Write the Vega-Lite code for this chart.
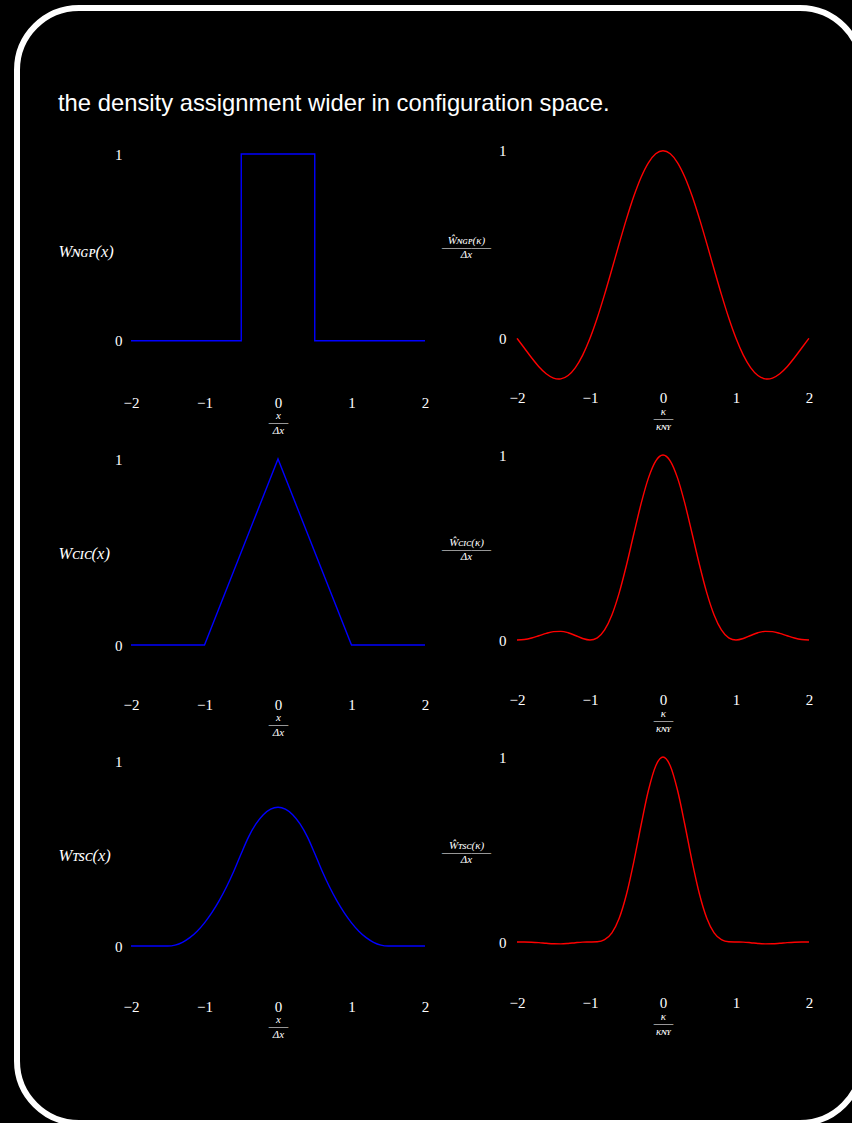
{
  "$schema": "https://vega.github.io/schema/vega-lite/v6.json",
  "background": "#000000",
  "padding": {"left": 17, "top": 8, "right": 0, "bottom": 0},
  "width": 845,
  "height": 1115,
  "view": {"stroke": "#ffffff", "strokeWidth": 6, "cornerRadius": 62, "fill": null},
  "title": {"text": "the density assignment wider in configuration space.", "anchor": "start", "frame": "group", "offset": -127, "dx": 41, "baseline": "alphabetic", "font": "Liberation Sans", "fontSize": 23.8, "fontWeight": "normal", "color": "#ffffff"},
  "datasets": {
    "ngp": [{"x": -2, "y": 0}, {"x": -0.5, "y": 0}, {"x": -0.5, "y": 1}, {"x": 0.5, "y": 1}, {"x": 0.5, "y": 0}, {"x": 2, "y": 0}],
    "cic": [{"x": -2, "y": 0}, {"x": -1, "y": 0}, {"x": 0, "y": 1}, {"x": 1, "y": 0}, {"x": 2, "y": 0}],
    "tsc": [{"x": -2, "y": 0}, {"x": -1.9, "y": 0}, {"x": -1.8, "y": 0}, {"x": -1.7, "y": 0}, {"x": -1.6, "y": 0}, {"x": -1.5, "y": 0}, {"x": -1.4, "y": 0.005}, {"x": -1.3, "y": 0.02}, {"x": -1.2, "y": 0.045}, {"x": -1.1, "y": 0.08}, {"x": -1.0, "y": 0.125}, {"x": -0.9, "y": 0.18}, {"x": -0.8, "y": 0.245}, {"x": -0.7, "y": 0.32}, {"x": -0.6, "y": 0.405}, {"x": -0.5, "y": 0.5}, {"x": -0.4, "y": 0.59}, {"x": -0.3, "y": 0.66}, {"x": -0.2, "y": 0.71}, {"x": -0.1, "y": 0.74}, {"x": 0, "y": 0.75}, {"x": 0.1, "y": 0.74}, {"x": 0.2, "y": 0.71}, {"x": 0.3, "y": 0.66}, {"x": 0.4, "y": 0.59}, {"x": 0.5, "y": 0.5}, {"x": 0.6, "y": 0.405}, {"x": 0.7, "y": 0.32}, {"x": 0.8, "y": 0.245}, {"x": 0.9, "y": 0.18}, {"x": 1.0, "y": 0.125}, {"x": 1.1, "y": 0.08}, {"x": 1.2, "y": 0.045}, {"x": 1.3, "y": 0.02}, {"x": 1.4, "y": 0.005}, {"x": 1.5, "y": 0}, {"x": 1.6, "y": 0}, {"x": 1.7, "y": 0}, {"x": 1.8, "y": 0}, {"x": 1.9, "y": 0}, {"x": 2, "y": 0}],
    "ngpk": [{"x": -2, "y": 0}, {"x": -1.9, "y": -0.0518}, {"x": -1.8, "y": -0.1039}, {"x": -1.7, "y": -0.1515}, {"x": -1.6, "y": -0.1892}, {"x": -1.5, "y": -0.2122}, {"x": -1.43, "y": -0.2172}, {"x": -1.4, "y": -0.2162}, {"x": -1.3, "y": -0.1981}, {"x": -1.2, "y": -0.1559}, {"x": -1.1, "y": -0.0894}, {"x": -1, "y": 0}, {"x": -0.9, "y": 0.1093}, {"x": -0.8, "y": 0.2339}, {"x": -0.7, "y": 0.3679}, {"x": -0.6, "y": 0.5046}, {"x": -0.5, "y": 0.6366}, {"x": -0.4, "y": 0.7568}, {"x": -0.3, "y": 0.8584}, {"x": -0.2, "y": 0.9355}, {"x": -0.1, "y": 0.9836}, {"x": 0, "y": 1}, {"x": 0.1, "y": 0.9836}, {"x": 0.2, "y": 0.9355}, {"x": 0.3, "y": 0.8584}, {"x": 0.4, "y": 0.7568}, {"x": 0.5, "y": 0.6366}, {"x": 0.6, "y": 0.5046}, {"x": 0.7, "y": 0.3679}, {"x": 0.8, "y": 0.2339}, {"x": 0.9, "y": 0.1093}, {"x": 1, "y": 0}, {"x": 1.1, "y": -0.0894}, {"x": 1.2, "y": -0.1559}, {"x": 1.3, "y": -0.1981}, {"x": 1.4, "y": -0.2162}, {"x": 1.43, "y": -0.2172}, {"x": 1.5, "y": -0.2122}, {"x": 1.6, "y": -0.1892}, {"x": 1.7, "y": -0.1515}, {"x": 1.8, "y": -0.1039}, {"x": 1.9, "y": -0.0518}, {"x": 2, "y": 0}],
    "cick": [{"x": -2, "y": 0}, {"x": -1.9, "y": 0.0027}, {"x": -1.8, "y": 0.0108}, {"x": -1.7, "y": 0.023}, {"x": -1.6, "y": 0.0358}, {"x": -1.5, "y": 0.045}, {"x": -1.4, "y": 0.0468}, {"x": -1.3, "y": 0.0392}, {"x": -1.2, "y": 0.0243}, {"x": -1.1, "y": 0.008}, {"x": -1, "y": 0}, {"x": -0.9, "y": 0.0119}, {"x": -0.8, "y": 0.0547}, {"x": -0.7, "y": 0.1353}, {"x": -0.6, "y": 0.2546}, {"x": -0.5, "y": 0.4053}, {"x": -0.4, "y": 0.5728}, {"x": -0.3, "y": 0.7368}, {"x": -0.2, "y": 0.8751}, {"x": -0.1, "y": 0.9675}, {"x": 0, "y": 1}, {"x": 0.1, "y": 0.9675}, {"x": 0.2, "y": 0.8751}, {"x": 0.3, "y": 0.7368}, {"x": 0.4, "y": 0.5728}, {"x": 0.5, "y": 0.4053}, {"x": 0.6, "y": 0.2546}, {"x": 0.7, "y": 0.1353}, {"x": 0.8, "y": 0.0547}, {"x": 0.9, "y": 0.0119}, {"x": 1, "y": 0}, {"x": 1.1, "y": 0.008}, {"x": 1.2, "y": 0.0243}, {"x": 1.3, "y": 0.0392}, {"x": 1.4, "y": 0.0468}, {"x": 1.5, "y": 0.045}, {"x": 1.6, "y": 0.0358}, {"x": 1.7, "y": 0.023}, {"x": 1.8, "y": 0.0108}, {"x": 1.9, "y": 0.0027}, {"x": 2, "y": 0}],
    "tsck": [{"x": -2, "y": 0}, {"x": -1.9, "y": -0.0001}, {"x": -1.8, "y": -0.0011}, {"x": -1.7, "y": -0.0035}, {"x": -1.6, "y": -0.0068}, {"x": -1.5, "y": -0.0096}, {"x": -1.4, "y": -0.0101}, {"x": -1.3, "y": -0.0078}, {"x": -1.2, "y": -0.0038}, {"x": -1.1, "y": -0.0007}, {"x": -1, "y": 0}, {"x": -0.9, "y": 0.0013}, {"x": -0.8, "y": 0.0128}, {"x": -0.7, "y": 0.0498}, {"x": -0.6, "y": 0.1284}, {"x": -0.5, "y": 0.258}, {"x": -0.4, "y": 0.4335}, {"x": -0.3, "y": 0.6325}, {"x": -0.2, "y": 0.8187}, {"x": -0.1, "y": 0.9517}, {"x": 0, "y": 1}, {"x": 0.1, "y": 0.9517}, {"x": 0.2, "y": 0.8187}, {"x": 0.3, "y": 0.6325}, {"x": 0.4, "y": 0.4335}, {"x": 0.5, "y": 0.258}, {"x": 0.6, "y": 0.1284}, {"x": 0.7, "y": 0.0498}, {"x": 0.8, "y": 0.0128}, {"x": 0.9, "y": 0.0013}, {"x": 1, "y": 0}, {"x": 1.1, "y": -0.0007}, {"x": 1.2, "y": -0.0038}, {"x": 1.3, "y": -0.0078}, {"x": 1.4, "y": -0.0101}, {"x": 1.5, "y": -0.0096}, {"x": 1.6, "y": -0.0068}, {"x": 1.7, "y": -0.0035}, {"x": 1.8, "y": -0.0011}, {"x": 1.9, "y": -0.0001}, {"x": 2, "y": 0}]
  },
  "resolve": {"scale": {"x": "independent", "y": "independent"}, "axis": {"x": "independent", "y": "independent"}},
  "layer": [
    {
      "data": {"name": "ngp"},
      "mark": {"type": "line", "color": "#0000ff", "strokeWidth": 1.4},
      "encoding": {
        "x": {"field": "x", "type": "quantitative", "scale": {"domain": [-2, 2], "range": [114, 408], "nice": false, "zero": false},
              "axis": {"orient": "bottom", "offset": -727.7, "values": [-2, -1, 0, 1, 2], "format": "d", "labelFlush": false, "labelOverlap": false, "labelPadding": 0, "title": ["x", "——", "Δx"], "titleFontStyle": "italic", "titleFontSize": 11, "titleLineHeight": 7.5, "titleBaseline": "top", "titleY": 14}},
        "y": {"field": "y", "type": "quantitative", "scale": {"domain": [0, 1], "range": [332.7, 146], "nice": false, "zero": false},
              "axis": {"orient": "left", "offset": -114, "values": [0, 1], "format": "d", "labelPadding": 9, "title": "Wɴɢᴘ(x)", "titleAngle": 0, "titleAlign": "left", "titleBaseline": "middle", "titleX": -73, "titleY": 243.7, "titleFontSize": 16.5, "titleFontStyle": "italic"}},
        "order": {"value": null}
      }
    },
    {
      "data": {"name": "ngpk"},
      "mark": {"type": "line", "color": "#ff0000", "strokeWidth": 1.4, "interpolate": "monotone"},
      "encoding": {
        "x": {"field": "x", "type": "quantitative", "scale": {"domain": [-2, 2], "range": [500, 792], "nice": false, "zero": false},
              "axis": {"orient": "bottom", "offset": -732.7, "values": [-2, -1, 0, 1, 2], "format": "d", "labelFlush": false, "labelOverlap": false, "labelPadding": 0, "title": ["κ", "——", "κɴʏ"], "titleFontStyle": "italic", "titleFontSize": 11, "titleLineHeight": 7.5, "titleBaseline": "top", "titleY": 15}},
        "y": {"field": "y", "type": "quantitative", "scale": {"domain": [0, 1], "range": [330.3, 142.7], "nice": false, "zero": false},
              "axis": {"orient": "left", "offset": -500, "values": [0, 1], "format": "d", "labelPadding": 11, "title": ["Ŵɴɢᴘ(κ)", "—————", "Δx"], "titleAngle": 0, "titleAlign": "center", "titleBaseline": "middle", "titleX": -51, "titleY": 232, "titleFontSize": 11, "titleLineHeight": 7, "titleFontStyle": "italic"}}
      }
    },
    {
      "data": {"name": "cic"},
      "mark": {"type": "line", "color": "#0000ff", "strokeWidth": 1.4},
      "encoding": {
        "x": {"field": "x", "type": "quantitative", "scale": {"domain": [-2, 2], "range": [114, 408], "nice": false, "zero": false},
              "axis": {"orient": "bottom", "offset": -426, "values": [-2, -1, 0, 1, 2], "format": "d", "labelFlush": false, "labelOverlap": false, "labelPadding": 0, "title": ["x", "——", "Δx"], "titleFontStyle": "italic", "titleFontSize": 11, "titleLineHeight": 7.5, "titleBaseline": "top", "titleY": 14}},
        "y": {"field": "y", "type": "quantitative", "scale": {"domain": [0, 1], "range": [637, 451], "nice": false, "zero": false},
              "axis": {"orient": "left", "offset": -114, "values": [0, 1], "format": "d", "labelPadding": 9, "title": "Wᴄɪᴄ(x)", "titleAngle": 0, "titleAlign": "left", "titleBaseline": "middle", "titleX": -73, "titleY": 545, "titleFontSize": 16.5, "titleFontStyle": "italic"}}
      }
    },
    {
      "data": {"name": "cick"},
      "mark": {"type": "line", "color": "#ff0000", "strokeWidth": 1.4, "interpolate": "monotone"},
      "encoding": {
        "x": {"field": "x", "type": "quantitative", "scale": {"domain": [-2, 2], "range": [500, 792], "nice": false, "zero": false},
              "axis": {"orient": "bottom", "offset": -431, "values": [-2, -1, 0, 1, 2], "format": "d", "labelFlush": false, "labelOverlap": false, "labelPadding": 0, "title": ["κ", "——", "κɴʏ"], "titleFontStyle": "italic", "titleFontSize": 11, "titleLineHeight": 7.5, "titleBaseline": "top", "titleY": 15}},
        "y": {"field": "y", "type": "quantitative", "scale": {"domain": [0, 1], "range": [632, 447], "nice": false, "zero": false},
              "axis": {"orient": "left", "offset": -500, "values": [0, 1], "format": "d", "labelPadding": 11, "title": ["Ŵᴄɪᴄ(κ)", "—————", "Δx"], "titleAngle": 0, "titleAlign": "center", "titleBaseline": "middle", "titleX": -51, "titleY": 534, "titleFontSize": 11, "titleLineHeight": 7, "titleFontStyle": "italic"}}
      }
    },
    {
      "data": {"name": "tsc"},
      "mark": {"type": "line", "color": "#0000ff", "strokeWidth": 1.4, "interpolate": "monotone"},
      "encoding": {
        "x": {"field": "x", "type": "quantitative", "scale": {"domain": [-2, 2], "range": [114, 408], "nice": false, "zero": false},
              "axis": {"orient": "bottom", "offset": -124, "values": [-2, -1, 0, 1, 2], "format": "d", "labelFlush": false, "labelOverlap": false, "labelPadding": 0, "title": ["x", "——", "Δx"], "titleFontStyle": "italic", "titleFontSize": 11, "titleLineHeight": 7.5, "titleBaseline": "top", "titleY": 14}},
        "y": {"field": "y", "type": "quantitative", "scale": {"domain": [0, 1], "range": [938, 753], "nice": false, "zero": false},
              "axis": {"orient": "left", "offset": -114, "values": [0, 1], "format": "d", "labelPadding": 9, "title": "Wᴛsᴄ(x)", "titleAngle": 0, "titleAlign": "left", "titleBaseline": "middle", "titleX": -73, "titleY": 847, "titleFontSize": 16.5, "titleFontStyle": "italic"}}
      }
    },
    {
      "data": {"name": "tsck"},
      "mark": {"type": "line", "color": "#ff0000", "strokeWidth": 1.4, "interpolate": "monotone"},
      "encoding": {
        "x": {"field": "x", "type": "quantitative", "scale": {"domain": [-2, 2], "range": [500, 792], "nice": false, "zero": false},
              "axis": {"orient": "bottom", "offset": -128, "values": [-2, -1, 0, 1, 2], "format": "d", "labelFlush": false, "labelOverlap": false, "labelPadding": 0, "title": ["κ", "——", "κɴʏ"], "titleFontStyle": "italic", "titleFontSize": 11, "titleLineHeight": 7.5, "titleBaseline": "top", "titleY": 15}},
        "y": {"field": "y", "type": "quantitative", "scale": {"domain": [0, 1], "range": [934, 749], "nice": false, "zero": false},
              "axis": {"orient": "left", "offset": -500, "values": [0, 1], "format": "d", "labelPadding": 11, "title": ["Ŵᴛsᴄ(κ)", "—————", "Δx"], "titleAngle": 0, "titleAlign": "center", "titleBaseline": "middle", "titleX": -51, "titleY": 837, "titleFontSize": 11, "titleLineHeight": 7, "titleFontStyle": "italic"}}
      }
    }
  ],
  "config": {
    "axis": {"domain": false, "ticks": false, "grid": false, "labelColor": "#ffffff", "labelFont": "Liberation Serif", "labelFontSize": 15, "titleColor": "#ffffff", "titleFont": "Liberation Serif", "titleFontWeight": "normal"}
  }
}
